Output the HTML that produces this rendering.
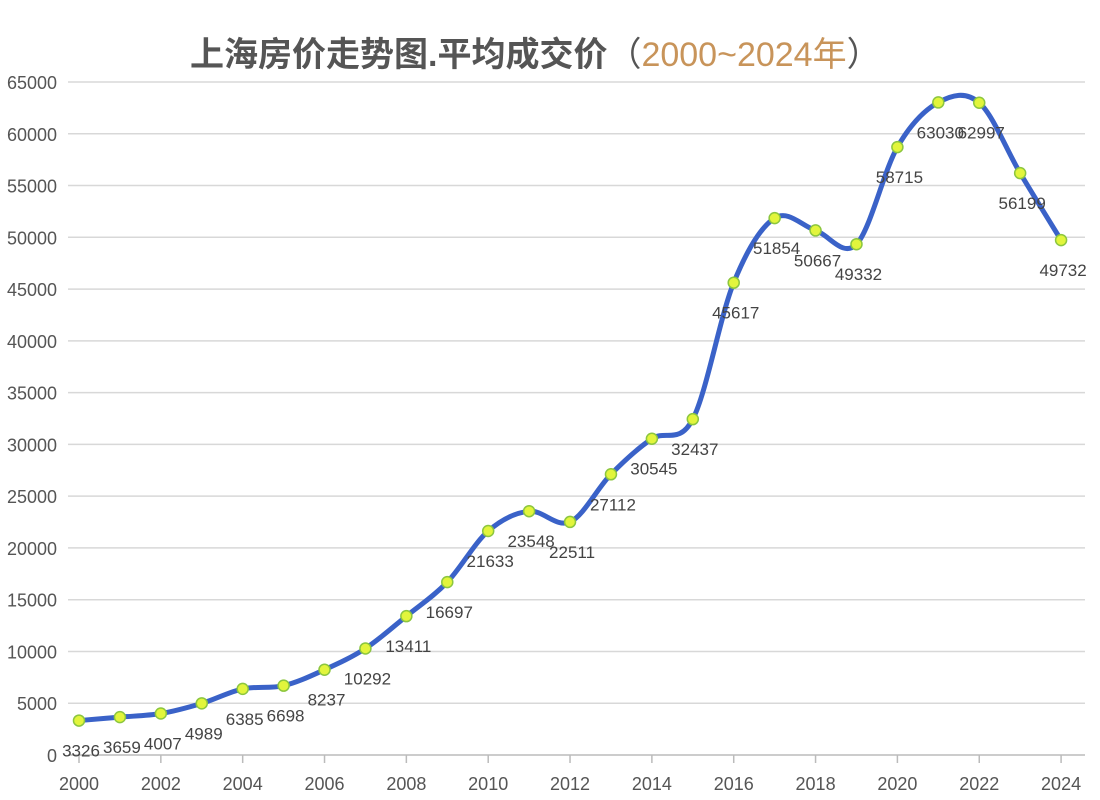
<!DOCTYPE html>
<html><head><meta charset="utf-8"><style>
html,body{margin:0;padding:0;background:#fff;}
svg{display:block;}
</style></head><body>
<svg id="c" width="1100" height="800" xmlns="http://www.w3.org/2000/svg" font-family="Liberation Sans, Noto Sans CJK SC, sans-serif">
<rect x="0" y="0" width="1100" height="800" fill="#fff"/>
<text x="190" y="66" font-size="34" font-weight="bold" fill="#555" font-family="Liberation Sans, Noto Sans CJK SC, sans-serif">上海房价走势图.平均成交价<tspan font-weight="normal">（</tspan><tspan font-weight="normal" fill="#c8945a">2000~2024年</tspan><tspan font-weight="normal">）</tspan></text>
<g id="grid"></g>
<g id="series"></g>
</svg>
<script>
var data=[3326,3659,4007,4989,6385,6698,8237,10292,13411,16697,21633,23548,22511,27112,30545,32437,45617,51854,50667,49332,58715,63030,62997,56199,49732];
function X(i){return 79+i*40.92;}
function Y(v){return 755-v*(673/65000);}
var ns="http://www.w3.org/2000/svg";
var g=document.getElementById('grid'),s=document.getElementById('series');
function el(t,a,p,txt){var e=document.createElementNS(ns,t);for(var k in a)e.setAttribute(k,a[k]);if(txt!==undefined)e.textContent=txt;p.appendChild(e);return e;}
for(var v=0;v<=65000;v+=5000){var y=Y(v);
 el('line',{x1:68,x2:1085,y1:y,y2:y,stroke:v==0?'#bbb':'#d8d8d8','stroke-width':1.5},g);
 el('text',{x:57,y:y+7,'font-size':18,fill:'#555','text-anchor':'end'},g,String(v));}
for(var i=0;i<=24;i+=2){var x=X(i);
 el('line',{x1:x,x2:x,y1:755,y2:763,stroke:'#bbb','stroke-width':1.5},g);
 el('text',{x:x,y:790,'font-size':18,fill:'#555','text-anchor':'middle'},g,String(2000+i));}
var pts=data.map(function(v,i){return [X(i),Y(v)];});
var d='M'+pts[0][0]+','+pts[0][1];
for(var i=0;i<pts.length-1;i++){var p0=pts[Math.max(0,i-1)],p1=pts[i],p2=pts[i+1],p3=pts[Math.min(pts.length-1,i+2)];
 var c1=[p1[0]+(p2[0]-p0[0])/6,p1[1]+(p2[1]-p0[1])/6],c2=[p2[0]-(p3[0]-p1[0])/6,p2[1]-(p3[1]-p1[1])/6];
 d+=' C'+c1[0]+','+c1[1]+' '+c2[0]+','+c2[1]+' '+p2[0]+','+p2[1];}
el('path',{d:d,fill:'none',stroke:'#3a62c8','stroke-width':5,'stroke-linecap':'round'},s);
pts.forEach(function(p,i){
 el('circle',{cx:p[0],cy:p[1],r:5.5,fill:'#e2f53c',stroke:'#8cc63f','stroke-width':1.5},s);
 el('text',{x:p[0]+2,y:p[1]+36,'font-size':17,fill:'#444','text-anchor':'middle'},s,String(data[i]));
});
</script>
</body></html>
